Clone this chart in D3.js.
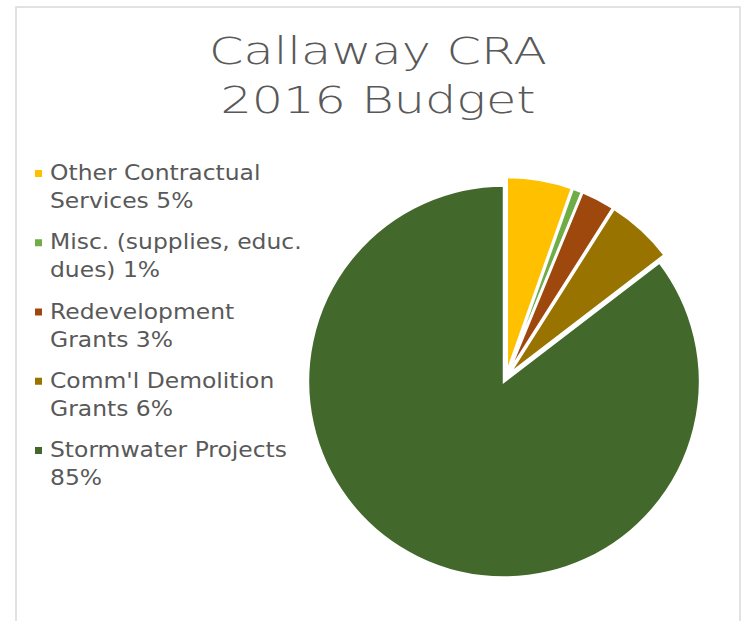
<!DOCTYPE html>
<html>
<head>
<meta charset="utf-8">
<script src="https://cdn.jsdelivr.net/npm/d3@7"></script>
<style>
  html, body { margin: 0; padding: 0; background: #ffffff; }
  svg { display: block; }
</style>
</head>
<body>
<svg id="chart" width="741" height="621"></svg>
<script>
// ---- data ----
const titleLines = ["Callaway CRA", "2016 Budget"];
const categories = [
  "Other Contractual Services",
  "Misc. (supplies, educ. dues)",
  "Redevelopment Grants",
  "Comm'l Demolition Grants",
  "Stormwater Projects"
];
const legendLines = [
  ["Other Contractual", "Services 5%"],
  ["Misc. (supplies, educ.", "dues) 1%"],
  ["Redevelopment", "Grants 3%"],
  ["Comm'l Demolition", "Grants 6%"],
  ["Stormwater Projects", "85%"]
];
const values = [5.4, 0.8, 2.8, 5.6, 85.4];
const colors = ["#FFC000", "#70AD47", "#9E480E", "#997300", "#43682B"];

// ---- drawing ----
const svg = d3.select("#chart");
const FONT = "'DejaVu Sans', 'Liberation Sans', sans-serif";
const textColor = "#595959";

// chart area border
svg.append("rect")
  .attr("x", 16).attr("y", 7)
  .attr("width", 724).attr("height", 700)
  .attr("fill", "#ffffff")
  .attr("stroke", "#d9d9d9")
  .attr("stroke-width", 1.5);

// title
const tl = svg.append("g").selectAll("text").data(titleLines).join("text")
  .attr("x", 378)
  .attr("y", (d, i) => [64, 113][i])
  .attr("text-anchor", "middle")
  .attr("font-family", FONT)
  .attr("font-weight", 200)
  .attr("fill", textColor)
  .attr("font-size", 37)
  .text(d => d);
{
  const sx = 338 / tl.nodes()[0].getComputedTextLength();
  tl.each(function () {
    const w = this.getComputedTextLength();
    d3.select(this).attr("textLength", w * sx).attr("lengthAdjust", "spacingAndGlyphs");
  });
}

// legend
const rowY = d3.scalePoint().domain(categories).range([180, 457]);
const items = svg.append("g").selectAll("g").data(categories).join("g")
  .attr("transform", d => `translate(0,${rowY(d)})`);
items.append("rect")
  .attr("x", 35).attr("y", -10)
  .attr("width", 7).attr("height", 7)
  .attr("fill", (d, i) => colors[i]);
const lt = items.selectAll("text").data((d, i) => legendLines[i]).join("text")
  .attr("x", 50)
  .attr("y", (d, j) => j * 28)
  .attr("font-family", FONT)
  .attr("fill", textColor)
  .attr("font-size", 20.5)
  .text(d => d);
{
  const ref = lt.filter(d => d === "Stormwater Projects").node();
  const sx = 237 / ref.getComputedTextLength();
  lt.each(function () {
    const w = this.getComputedTextLength();
    d3.select(this).attr("textLength", w * sx).attr("lengthAdjust", "spacingAndGlyphs");
  });
}

// pie
const cx = 506, cy = 377.5, r = 196, explode = 4.5;
const pie = d3.pie().sort(null).value(d => d)(values);
const arc = d3.arc().innerRadius(0).outerRadius(r);
svg.append("g")
  .attr("transform", `translate(${cx},${cy})`)
  .selectAll("path").data(pie).join("path")
  .attr("transform", d => {
    const a = (d.startAngle + d.endAngle) / 2;
    return `translate(${explode * Math.sin(a)},${-explode * Math.cos(a)})`;
  })
  .attr("d", arc)
  .attr("fill", (d, i) => colors[i])
  .attr("stroke", "#ffffff")
  .attr("stroke-width", 2.5)
  .attr("stroke-linejoin", "miter");
</script>
</body>
</html>
